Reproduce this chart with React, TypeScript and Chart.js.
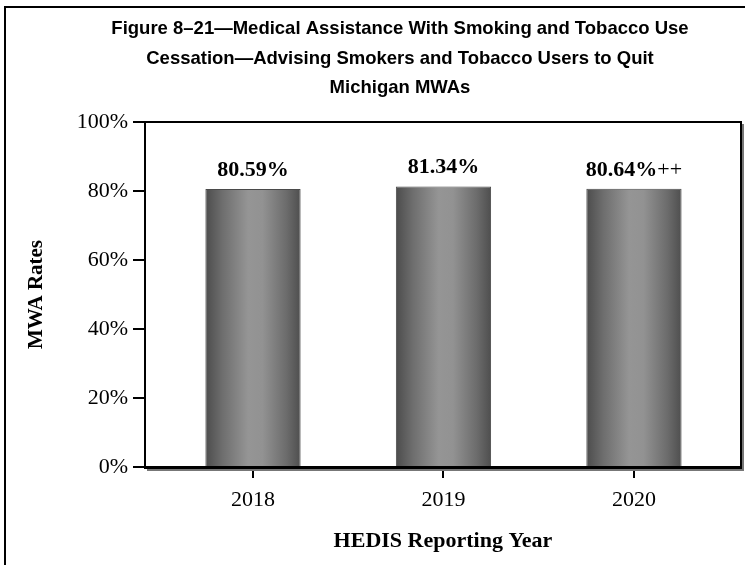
import React, { useEffect, useRef } from 'react';
import { Chart, registerables } from 'chart.js';

Chart.register(...registerables);

const titleLines = [
  'Figure 8\u201321\u2014Medical Assistance With Smoking and Tobacco Use',
  'Cessation\u2014Advising Smokers and Tobacco Users to Quit',
  'Michigan MWAs',
];
const years = ['2018', '2019', '2020'];
const rates = [80.59, 81.34, 80.64];
const rateLabels = ['80.59%', '81.34%', '80.64%'];
const labelSuffixes = ['', '', '++'];
const yTickValues = [0, 20, 40, 60, 80, 100];
const xTitle = 'HEDIS Reporting Year';
const yTitle = 'MWA Rates';

const W = 745;
const H = 565;
const SERIF = '"Liberation Serif", "Times New Roman", serif';
const SANS = '"Liberation Sans", Arial, sans-serif';

const decorPlugin = {
  id: 'decor',
  beforeDraw(chart: any) {
    const ctx = chart.ctx;
    ctx.save();
    ctx.fillStyle = '#ffffff';
    ctx.fillRect(0, 0, chart.width, chart.height);
    ctx.strokeStyle = '#000000';
    ctx.lineWidth = 2;
    ctx.beginPath();
    ctx.moveTo(5, chart.height);
    ctx.lineTo(5, 7);
    ctx.lineTo(chart.width, 7);
    ctx.stroke();
    ctx.fillStyle = '#000000';
    ctx.font = `bold 18.5px ${SANS}`;
    ctx.textAlign = 'center';
    ctx.textBaseline = 'middle';
    titleLines.forEach((t, i) => ctx.fillText(t, 400, 29 + i * 29.5));
    ctx.restore();
  },
  afterDraw(chart: any) {
    const ctx = chart.ctx;
    const a = chart.chartArea;
    ctx.save();
    ctx.strokeStyle = '#777777';
    ctx.lineWidth = 2;
    ctx.beginPath();
    ctx.moveTo(a.right + 2, a.top + 2);
    ctx.lineTo(a.right + 2, a.bottom + 3);
    ctx.lineTo(a.left + 2, a.bottom + 3);
    ctx.stroke();
    ctx.strokeStyle = '#000000';
    ctx.lineWidth = 2;
    ctx.beginPath();
    ctx.moveTo(a.left, a.top);
    ctx.lineTo(a.right, a.top);
    ctx.lineTo(a.right, a.bottom);
    ctx.stroke();
    ctx.restore();
  },
  afterDatasetsDraw(chart: any) {
    const ctx = chart.ctx;
    const meta = chart.getDatasetMeta(0);
    ctx.save();
    ctx.fillStyle = '#000000';
    ctx.textBaseline = 'alphabetic';
    meta.data.forEach((bar: any, i: number) => {
      const main = rateLabels[i];
      const suf = labelSuffixes[i];
      ctx.font = `bold 22px ${SERIF}`;
      const w1 = ctx.measureText(main).width;
      ctx.font = `22px ${SERIF}`;
      const w2 = suf ? ctx.measureText(suf).width : 0;
      const start = bar.x - (w1 + w2) / 2;
      const y = bar.y - 13;
      ctx.textAlign = 'left';
      ctx.font = `bold 22px ${SERIF}`;
      ctx.fillText(main, start, y);
      if (suf) {
        ctx.font = `22px ${SERIF}`;
        ctx.fillText(suf, start + w1, y);
      }
    });
    ctx.restore();
  },
};

function barGradient(c: any) {
  const chart = c.chart;
  const xs = chart.scales && chart.scales.x;
  if (!xs || c.dataIndex == null) return '#808080';
  const cx = xs.getPixelForValue(c.dataIndex);
  const half = (xs.getPixelForValue(1) - xs.getPixelForValue(0)) * 0.25;
  if (!isFinite(cx) || !isFinite(half)) return '#808080';
  const g = chart.ctx.createLinearGradient(cx - half, 0, cx + half, 0);
  g.addColorStop(0, '#4c4c4c');
  g.addColorStop(0.18, '#6e6e6e');
  g.addColorStop(0.45, '#959595');
  g.addColorStop(0.6, '#929292');
  g.addColorStop(0.85, '#6c6c6c');
  g.addColorStop(1, '#4e4e4e');
  return g;
}

export default function App() {
  const ref = useRef<HTMLCanvasElement | null>(null);
  useEffect(() => {
    if (!ref.current) return;
    const chart = new Chart(ref.current, {
      type: 'bar',
      data: {
        datasets: [
          {
            data: rates.map((v, i) => ({ x: i, y: v })),
            backgroundColor: barGradient,
            borderColor: '#4a4a4a',
            borderWidth: 1,
            borderSkipped: 'bottom',
            barPercentage: 0.5,
            categoryPercentage: 1,
          },
        ],
      },
      plugins: [decorPlugin],
      options: {
        responsive: false,
        animation: false,
        events: [],
        layout: { padding: { top: 122, right: 4, left: 0, bottom: 0 } },
        plugins: { legend: { display: false }, tooltip: { enabled: false }, title: { display: false } },
        scales: {
          x: {
            type: 'linear',
            bounds: 'data',
            offset: false,
            min: -0.567,
            max: 2.562,
            afterFit: (s: any) => { s.height = H - 467; },
            afterBuildTicks: (s: any) => { s.ticks = years.map((_, i) => ({ value: i })); },
            grid: { offset: false, drawOnChartArea: false, drawTicks: true, tickLength: 11, color: '#000000', lineWidth: 2 },
            border: { display: true, color: '#000000', width: 3 },
            ticks: {
              color: '#000000',
              font: { family: SERIF, size: 22 },
              padding: 9,
              maxRotation: 0,
              autoSkip: false,
              callback: (v: any) => years[v] ?? '',
            },
            title: {
              display: true,
              text: xTitle,
              color: '#000000',
              font: { family: SERIF, size: 22, weight: 'bold' },
              padding: { top: 0, bottom: 10 },
            },
          },
          y: {
            min: 0,
            max: 100,
            afterFit: (s: any) => { s.width = 145; },
            afterBuildTicks: (s: any) => { s.ticks = yTickValues.map((v) => ({ value: v })); },
            grid: { drawOnChartArea: false, drawTicks: true, tickLength: 12, color: '#000000', lineWidth: 2 },
            border: { display: true, color: '#000000', width: 2 },
            ticks: {
              color: '#000000',
              font: { family: SERIF, size: 22 },
              padding: 5,
              callback: (v: any) => `${v}%`,
            },
            title: {
              display: true,
              text: yTitle,
              color: '#000000',
              font: { family: SERIF, size: 21, weight: 'bold' },
              padding: { top: 24, bottom: 0 },
            },
          },
        },
      },
    });
    return () => chart.destroy();
  }, []);
  return (
    <div style={{ position: 'absolute', left: 0, top: 0, width: W, height: H }}>
      <canvas ref={ref} width={W} height={H} style={{ width: W, height: H, display: 'block' }} />
    </div>
  );
}
